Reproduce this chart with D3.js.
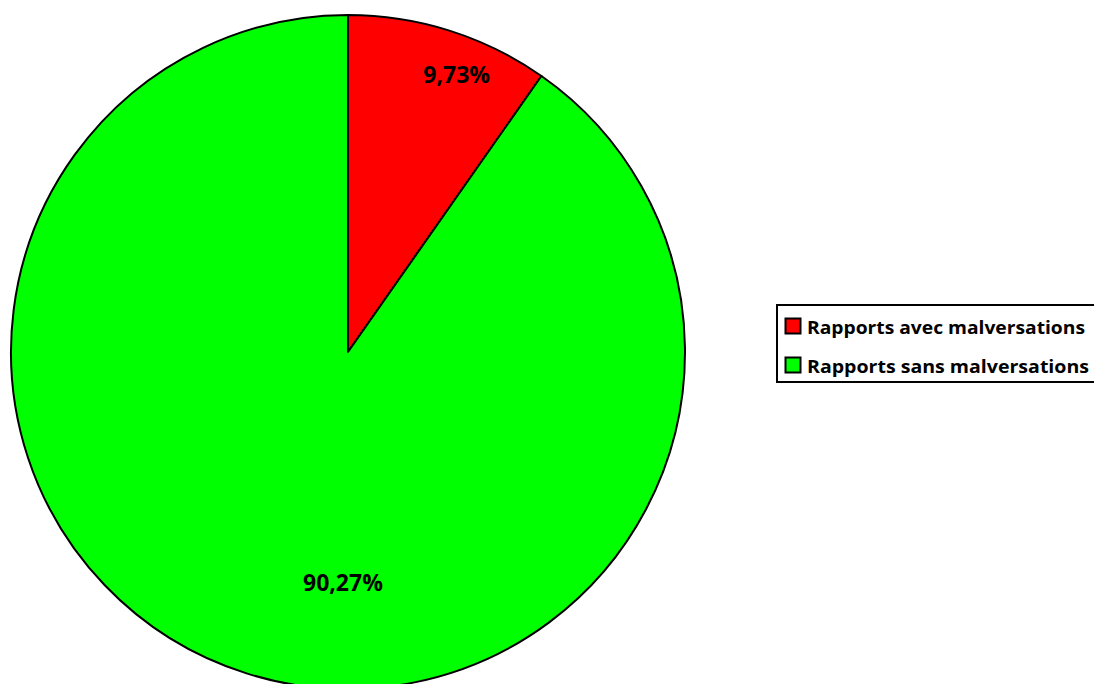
<!DOCTYPE html>
<html>
<head>
<meta charset="utf-8">
<script src="https://cdn.jsdelivr.net/npm/d3@7"></script>
<style>
  html, body { margin: 0; padding: 0; background: #fff; overflow: hidden; }
  svg { display: block; }
</style>
</head>
<body>
<svg id="chart" width="1094" height="684"></svg>
<script>
// Share of reports, with and without embezzlement
const categories = ["Rapports avec malversations", "Rapports sans malversations"];
const values = [9.73, 90.27];
const valueLabels = ["9,73%", "90,27%"];
const colors = ["#ff0000", "#00ff00"];

// Label placement inside each slice: fraction along the slice's angle, fraction of the radius
const labelPlacement = [
  { along: 0.61, radial: 0.885 },
  { along: 0.45, radial: 0.683 }
];

const svg = d3.select("#chart");
const cx = 348, cy = 352, radius = 337;

const pie = d3.pie().sort(null).value(d => d)(values);
const arc = d3.arc().innerRadius(0).outerRadius(radius);

const g = svg.append("g").attr("transform", `translate(${cx},${cy})`);

g.selectAll("path.slice")
  .data(pie)
  .join("path")
  .attr("class", "slice")
  .attr("d", arc)
  .attr("fill", (d, i) => colors[i])
  .attr("stroke", "#000")
  .attr("stroke-width", 2)
  .attr("stroke-linejoin", "round");

g.selectAll("text.val")
  .data(pie)
  .join("text")
  .attr("class", "val")
  .attr("x", (d, i) => {
    const p = labelPlacement[i];
    const a = d.startAngle + (d.endAngle - d.startAngle) * p.along;
    return Math.sin(a) * radius * p.radial;
  })
  .attr("y", (d, i) => {
    const p = labelPlacement[i];
    const a = d.startAngle + (d.endAngle - d.startAngle) * p.along;
    return -Math.cos(a) * radius * p.radial;
  })
  .attr("text-anchor", "middle")
  .attr("dominant-baseline", "central")
  .attr("font-family", "'Open Sans', sans-serif")
  .attr("font-weight", "bold")
  .attr("font-size", 23)
  .attr("fill", "#000")
  .text((d, i) => valueLabels[i]);

// Legend
const legend = svg.append("g").attr("transform", "translate(777,305)");
legend.append("rect")
  .attr("x", 0).attr("y", 0)
  .attr("width", 330).attr("height", 77)
  .attr("fill", "#fff")
  .attr("stroke", "#000")
  .attr("stroke-width", 2);

const rows = legend.selectAll("g.row")
  .data(categories)
  .join("g")
  .attr("class", "row")
  .attr("transform", (d, i) => `translate(0,${21 + i * 39})`);

rows.append("rect")
  .attr("x", 8.5).attr("y", -7.5)
  .attr("width", 15).attr("height", 15)
  .attr("fill", (d, i) => colors[i])
  .attr("stroke", "#000")
  .attr("stroke-width", 2);

rows.append("text")
  .attr("x", 30)
  .attr("y", 0)
  .attr("dominant-baseline", "central")
  .attr("font-family", "'Open Sans', sans-serif")
  .attr("font-weight", "bold")
  .attr("font-size", 18.5)
  .attr("fill", "#000")
  .attr("textLength", (d, i) => i === 0 ? 278 : 282)
  .attr("lengthAdjust", "spacingAndGlyphs")
  .text(d => d);
</script>
</body>
</html>
